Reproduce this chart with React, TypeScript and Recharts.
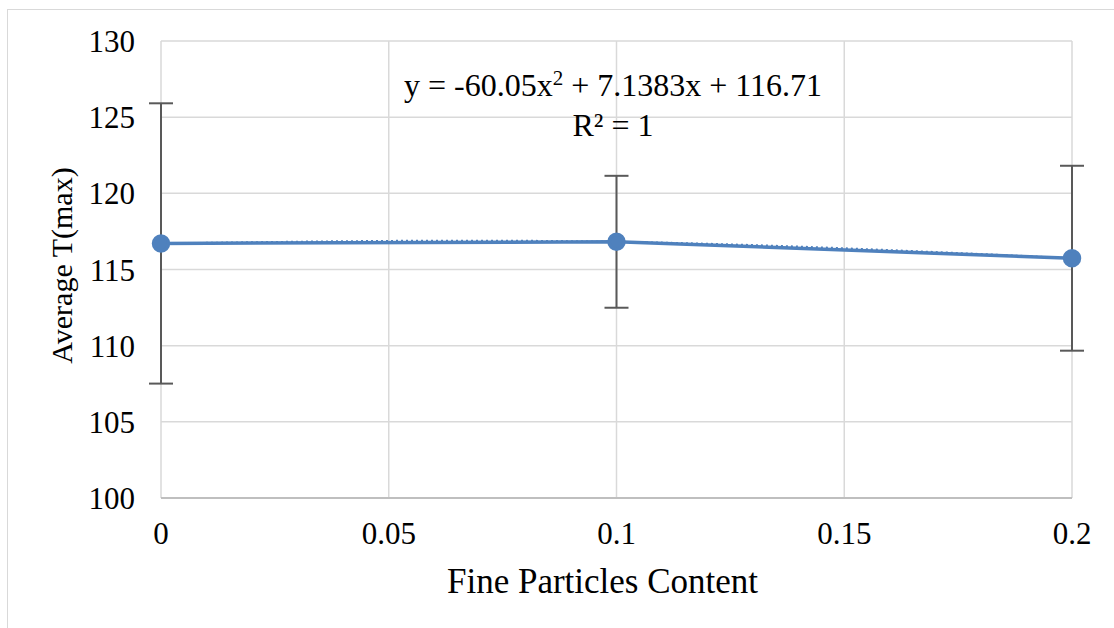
import {
  LineChart,
  Line,
  XAxis,
  YAxis,
  CartesianGrid,
  ErrorBar,
  Label,
  Customized
} from 'recharts';

const fineContent = [0, 0.1, 0.2];
const avgTmax = [116.71, 116.82, 115.74];
const stdDev = [9.2, 4.33, 6.07];

const xTicks = [0, 0.05, 0.1, 0.15, 0.2];
const yTicks = [100, 105, 110, 115, 120, 125, 130];

const data = fineContent.map((x, i) => ({
  x,
  avg: avgTmax[i],
  err: stdDev[i]
}));

const FONT = '"Liberation Serif", "Times New Roman", serif';
const BLUE = '#4f81bd';

const Equation = () => (
  <g fontFamily={FONT} fill="#000" textAnchor="middle">
    <text x={613} y={96} fontSize={32}>
      y = -60.05x<tspan dy={-11} fontSize={21}>2</tspan>
      <tspan dy={11}> + 7.1383x + 116.71</tspan>
    </text>
    <text x={613} y={136} fontSize={32}>
      R² = 1
    </text>
  </g>
);

const App = () => {
  return (
    <div
      style={{
        position: 'absolute',
        left: 0,
        top: 0,
        width: 1114,
        height: 628,
        overflow: 'hidden',
        background: '#fff'
      }}
    >
      <div
        style={{
          position: 'absolute',
          left: 7,
          top: 9,
          width: 1200,
          height: 700,
          border: '1.5px solid #d9d9d9'
        }}
      />
      <div style={{ position: 'absolute', left: 0, top: 0 }}>
        <LineChart
          width={1114}
          height={628}
          data={data}
          margin={{ top: 41, right: 42, left: 101, bottom: 100 }}
        >
          <CartesianGrid stroke="#d9d9d9" strokeWidth={1.5} />
          <XAxis
            dataKey="x"
            type="number"
            domain={[0, 0.2]}
            ticks={xTicks}
            height={30}
            tickLine={false}
            tickSize={0}
            tickMargin={24}
            axisLine={{ stroke: '#bfbfbf', strokeWidth: 2 }}
            tick={{ fill: '#000', fontSize: 31, fontFamily: FONT }}
          >
            <Label
              value="Fine Particles Content"
              position="bottom"
              offset={40}
              dx={-14}
              style={{ fill: '#000', fontSize: 35, fontFamily: FONT }}
            />
          </XAxis>
          <YAxis
            domain={[100, 130]}
            ticks={yTicks}
            width={60}
            tickLine={false}
            tickSize={0}
            tickMargin={26}
            axisLine={false}
            tick={{ fill: '#000', fontSize: 31, fontFamily: FONT }}
          >
            <Label
              value="Average T(max)"
              angle={-90}
              position="insideLeft"
              offset={-40}
              dy={-4}
              style={{ fill: '#000', fontSize: 30, fontFamily: FONT, textAnchor: 'middle' }}
            />
          </YAxis>
          <Line
            type="linear"
            dataKey="avg"
            stroke={BLUE}
            strokeWidth={3.5}
            dot={{ r: 7.5, fill: BLUE, stroke: BLUE }}
            activeDot={false}
            isAnimationActive={false}
          >
            <ErrorBar
              dataKey="err"
              direction="y"
              width={12}
              stroke="#595959"
              strokeWidth={2}
            />
          </Line>
          <Line
            type="natural"
            dataKey="avg"
            stroke={BLUE}
            strokeWidth={2}
            strokeDasharray="2 3"
            dot={false}
            activeDot={false}
            isAnimationActive={false}
          />
          <Customized component={Equation} />
        </LineChart>
      </div>
    </div>
  );
};

export default App;
